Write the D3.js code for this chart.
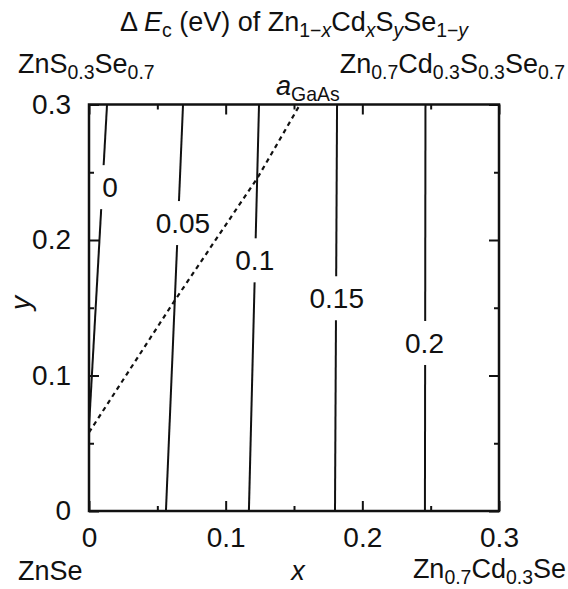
<!DOCTYPE html>
<html>
<head>
<meta charset="utf-8">
<script src="https://cdn.jsdelivr.net/npm/d3@7.9.0/dist/d3.min.js"></script>
<style>
  html, body { margin: 0; padding: 0; background: #fff; }
  svg { display: block; font-family: "Liberation Sans", Arial, Helvetica, sans-serif; }
</style>
</head>
<body>
<svg id="chart" width="568" height="589"></svg>
<script>
// contour levels (eV) and their lines as [x, y]
const levels = ['0', '0.05', '0.1', '0.15', '0.2'];
const contourLines = [
  [[0, 0.062], [0.0132, 0.3]],
  [[0.0563, 0], [0.0688, 0.3]],
  [[0.117, 0], [0.1244, 0.3]],
  [[0.180, 0], [0.1815, 0.3]],
  [[0.2458, 0], [0.2462, 0.3]]
];
// where each level label sits (line is broken there)
const labelPos = [[0.0154, 0.239], [0.0687, 0.2125], [0.1213, 0.185], [0.1813, 0.157], [0.2455, 0.124]];
// lattice matched to GaAs (dotted)
const gaAsLine = [[0, 0.058], [0.0615, 0.1535], [0.1237, 0.2465], [0.1544, 0.3]];

const majorTicks = [0, 0.1, 0.2, 0.3];
const minorTicks = [0.05, 0.15, 0.25];
const tickLabels = ['0', '0.1', '0.2', '0.3'];

const svg = d3.select('#chart');
const pLeft = 89, pRight = 499, pTop = 104.5, pBottom = 511;
const fs = 28;

const x = d3.scaleLinear().domain([0, 0.3]).range([pLeft, pRight]);
const y = d3.scaleLinear().domain([0, 0.3]).range([pBottom, pTop]);

// rich text helper: segments are [text, opts]; opts.sub => subscript, opts.it => italic
function rich(g, px, py, segs, size, anchor) {
  const t = g.append('text').attr('x', px).attr('y', py)
    .attr('font-size', size).attr('text-anchor', anchor || 'start').attr('fill', '#111');
  let shifted = 0;
  segs.forEach(([s, o = {}]) => {
    const want = o.sub ? Math.round(size * 0.24) : 0;
    const sp = t.append('tspan').text(s)
      .attr('dy', want - shifted)
      .attr('font-size', o.sub ? size * 0.72 : size);
    if (o.it) sp.attr('font-style', 'italic');
    shifted = want;
  });
  return t;
}

// contours
const line = d3.line().x(d => x(d[0])).y(d => y(d[1]));
svg.append('g').selectAll('path').data(contourLines).join('path')
  .attr('d', line).attr('fill', 'none').attr('stroke', '#111').attr('stroke-width', 2);

// gaps + level labels
const lab = svg.append('g');
levels.forEach((lv, i) => {
  const [lx, ly] = labelPos[i];
  const t = lab.append('text').attr('x', x(lx)).attr('y', y(ly)).attr('dy', '0.36em')
    .attr('text-anchor', 'middle').attr('font-size', fs).attr('fill', '#111').text(lv);
  const bb = t.node().getBBox();
  lab.insert('rect', 'text').attr('x', bb.x - 3).attr('width', bb.width + 6)
    .attr('y', y(ly) - 22).attr('height', 44).attr('fill', '#fff');
});

// dotted GaAs line
svg.append('path').datum(gaAsLine).attr('d', line)
  .attr('fill', 'none').attr('stroke', '#111').attr('stroke-width', 2.2)
  .attr('stroke-dasharray', '4.5,4');

// axes: inward ticks on all four sides
function ticks(axisFn, scale, tr, size, vals, fmt, pad) {
  const a = axisFn(scale).tickValues(vals).tickSize(-size).tickPadding(pad || 0)
    .tickFormat(fmt || (() => ''));
  const g = svg.append('g').attr('transform', tr).call(a);
  g.select('.domain').remove();
  g.selectAll('line').attr('stroke', '#111').attr('stroke-width', 2);
  g.selectAll('text').attr('font-size', fs).attr('fill', '#111')
    .attr('font-family', '"Liberation Sans", Arial, sans-serif');
  return g;
}
const fmt = (d, i) => tickLabels[i];
ticks(d3.axisBottom, x, `translate(0,${pBottom})`, 10, majorTicks, fmt, 16);
ticks(d3.axisBottom, x, `translate(0,${pBottom})`, 5, minorTicks);
ticks(d3.axisTop, x, `translate(0,${pTop})`, 10, majorTicks);
ticks(d3.axisTop, x, `translate(0,${pTop})`, 5, minorTicks);
ticks(d3.axisLeft, y, `translate(${pLeft},0)`, 10, majorTicks, fmt, 18);
ticks(d3.axisLeft, y, `translate(${pLeft},0)`, 5, minorTicks);
ticks(d3.axisRight, y, `translate(${pRight},0)`, 10, majorTicks);
ticks(d3.axisRight, y, `translate(${pRight},0)`, 5, minorTicks);

svg.append('rect').attr('x', pLeft).attr('y', pTop)
  .attr('width', pRight - pLeft).attr('height', pBottom - pTop)
  .attr('fill', 'none').attr('stroke', '#111').attr('stroke-width', 2.5);

// titles and corner compositions
const txt = svg.append('g');
rich(txt, 294, 31, [['Δ '], ['E', { it: true }], ['c', { sub: true }], [' (eV) of Zn'],
  ['1−', { sub: true }], ['x', { sub: true, it: true }], ['Cd'], ['x', { sub: true, it: true }],
  ['S'], ['y', { sub: true, it: true }], ['Se'], ['1−', { sub: true }], ['y', { sub: true, it: true }]], 27, 'middle');
rich(txt, 18, 73, [['ZnS'], ['0.3', { sub: true }], ['Se'], ['0.7', { sub: true }]], 27);
rich(txt, 565, 73, [['Zn'], ['0.7', { sub: true }], ['Cd'], ['0.3', { sub: true }], ['S'], ['0.3', { sub: true }], ['Se'], ['0.7', { sub: true }]], 27, 'end');
rich(txt, 276, 95, [['a', { it: true }], ['GaAs', { sub: true }]], 27);
rich(txt, 18, 580, [['ZnSe']], 27);
rich(txt, 298, 580, [['x', { it: true }]], 27, 'middle');
rich(txt, 566, 578, [['Zn'], ['0.7', { sub: true }], ['Cd'], ['0.3', { sub: true }], ['Se']], 27, 'end');
txt.append('text').attr('transform', 'translate(30,303) rotate(-90)')
  .attr('text-anchor', 'middle').attr('font-size', 28).attr('font-style', 'italic')
  .attr('fill', '#111').text('y');
</script>
</body>
</html>
